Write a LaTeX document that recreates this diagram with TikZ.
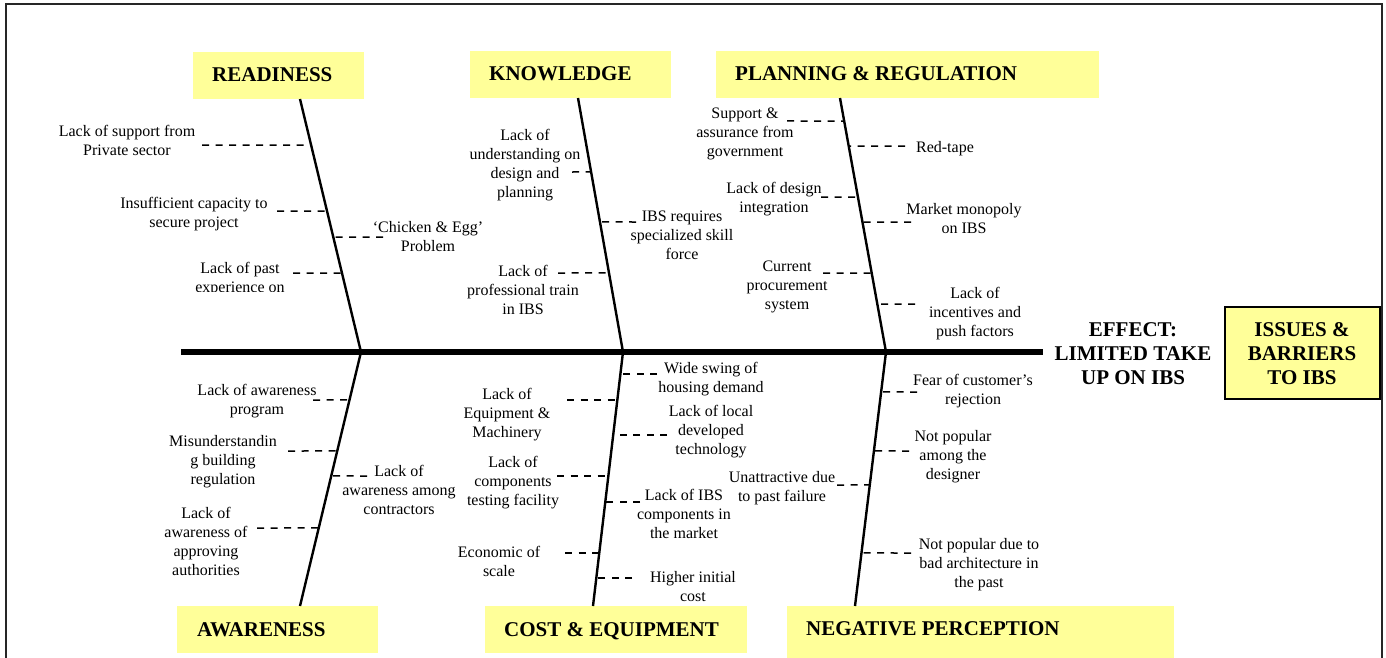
\documentclass[tikz,border=0pt]{standalone}
\usepackage{fontspec}
\setmainfont{Liberation Serif}
\usetikzlibrary{calc}
\definecolor{hy}{RGB}{255,255,153}
\newcommand\mkdash[5]{%
  \coordinate (#1b) at (intersection of #2--#3 and 0,#4--10,#4);
  \coordinate (#1e) at (#5,#4);
  \draw[dashln] (#1e) -- (#1b);}
\begin{document}
\begin{tikzpicture}[x=1pt,y=-1pt,
  lbl/.style={font=\fontsize{16}{19}\selectfont, align=center, inner sep=0pt, anchor=base},
  hdr/.style={font=\fontsize{21}{24}\selectfont\bfseries, inner sep=0pt, anchor=base west},
  hbox/.style={fill=hy, draw=none, inner sep=0pt, anchor=north west},
  bone/.style={line width=2.4pt},
  spine/.style={line width=6pt},
  dashln/.style={line width=1.5pt, dash pattern=on 7pt off 6.5pt},
  frame/.style={line width=2pt, draw=black!85}]
\useasboundingbox (0,0) rectangle (1386,658);
% frame
\draw[frame] (6,658) -- (6,4) -- (1382,4) -- (1382,658);
% header boxes
\node[hbox, minimum width=171pt, minimum height=47pt] (rbox) at (193,52) {};
\node[hbox, minimum width=201pt, minimum height=47pt] (kbox) at (470,51) {};
\node[hbox, minimum width=383pt, minimum height=47pt] (pbox) at (716,51) {};
\node[hbox, minimum width=201pt, minimum height=47pt] (abox) at (177,606) {};
\node[hbox, minimum width=262pt, minimum height=47pt] (cbox) at (485,606) {};
\node[hbox, minimum width=387pt, minimum height=53pt] (nbox) at (787,606) {};
\node[hdr] (rtxt) at ($(rbox.north west)+(19,30)$) {READINESS};
\node[hdr] (ktxt) at ($(kbox.north west)+(19,30)$) {KNOWLEDGE};
\node[hdr] (ptxt) at ($(pbox.north west)+(19,30)$) {PLANNING \& REGULATION};
\node[hdr] (atxt) at ($(abox.north west)+(20,30)$) {AWARENESS};
\node[hdr] (ctxt) at ($(cbox.north west)+(19,30)$) {COST \& EQUIPMENT};
\node[hdr] (ntxt) at ($(nbox.north west)+(19,29)$) {NEGATIVE PERCEPTION};
% spine
\coordinate (spL) at (181,352);
\coordinate (spR) at (1043,352);
\draw[spine] (spL) -- (spR);
% bones
\coordinate (rT) at (300,99);  \coordinate (rJ) at (361,352);
\coordinate (kT) at (578,98);  \coordinate (kJ) at (623,352);
\coordinate (pT) at (840,98);  \coordinate (pJ) at (886,352);
\coordinate (aB) at (300,606); \coordinate (cB) at (593,606); \coordinate (nB) at (855,606);
\draw[bone] (rT) -- (rJ) -- (aB);
\draw[bone] (kT) -- (kJ) -- (cB);
\draw[bone] (pT) -- (pJ) -- (nB);
% effect
\node[font=\fontsize{21}{24}\selectfont\bfseries, align=center, inner sep=0pt, anchor=base] (eff) at (1133,384) {EFFECT:\\LIMITED TAKE\\UP ON IBS};
\node[fill=hy, draw=black, line width=1.8pt, minimum width=155pt, minimum height=92pt, inner sep=0pt, anchor=north west] (ibox) at (1224,306) {};
\node[font=\fontsize{21}{24}\selectfont\bfseries, align=center, inner sep=0pt, anchor=base] (itxt) at (1302,384) {ISSUES \&\\BARRIERS\\TO IBS};
% dashes
\mkdash{d1}{rT}{rJ}{145}{202}
\mkdash{d2}{rT}{rJ}{211}{277}
\mkdash{d3}{rT}{rJ}{273}{293}
\mkdash{d4}{rT}{rJ}{237}{383}
\mkdash{d5}{kT}{kJ}{172}{572}
\mkdash{d6}{kT}{kJ}{222}{636}
\mkdash{d7}{kT}{kJ}{273}{558}
\mkdash{d8}{pT}{pJ}{121}{787}
\mkdash{d9}{pT}{pJ}{146}{905}
\mkdash{d10}{pT}{pJ}{197}{821}
\mkdash{d11}{pT}{pJ}{222}{911}
\mkdash{d12}{pT}{pJ}{273}{823}
\mkdash{d13}{pT}{pJ}{304}{915}
\mkdash{d14}{rJ}{aB}{400}{313}
\mkdash{d15}{rJ}{aB}{451}{288}
\mkdash{d16}{rJ}{aB}{476}{367}
\mkdash{d17}{rJ}{aB}{528}{257}
\mkdash{d18}{kJ}{cB}{374}{657}
\mkdash{d19}{kJ}{cB}{400}{567}
\mkdash{d20}{kJ}{cB}{435}{667}
\mkdash{d21}{kJ}{cB}{476}{557}
\mkdash{d22}{kJ}{cB}{502}{640}
\mkdash{d23}{kJ}{cB}{553}{565}
\mkdash{d24}{kJ}{cB}{578}{632}
\mkdash{d25}{pJ}{nB}{392}{917}
\mkdash{d26}{pJ}{nB}{451}{909}
\mkdash{d27}{pJ}{nB}{485}{837}
\mkdash{d28}{pJ}{nB}{553}{911}
% labels (anchored at the baseline of their last line)
\node[lbl] (l1) at (127,155) {Lack of support from\\Private sector};
\node[lbl] (l2) at (194,227) {Insufficient capacity to\\secure project};
\begin{scope}
\clip (140,250) rectangle (345,291);
\node[lbl] (l3) at (240,292) {Lack of past\\experience on};
\end{scope}
\node[lbl] (l4) at (428,251) {‘Chicken \& Egg’\\Problem};
\node[lbl] (l5) at (525,197) {Lack of\\understanding on\\design and\\planning};
\node[lbl] (l6) at (682,259) {IBS requires\\specialized skill\\force};
\node[lbl] (l7) at (523,314) {Lack of\\professional train\\in IBS};
\node[lbl] (l8) at (745,157) {Support \&\\assurance from\\government};
\node[lbl] (l9) at (945,152) {Red-tape};
\node[lbl] (l10) at (774,212) {Lack of design\\integration};
\node[lbl] (l11) at (964,233) {Market monopoly\\on IBS};
\node[lbl] (l12) at (787,309) {Current\\procurement\\system};
\node[lbl] (l13) at (975,336) {Lack of\\incentives and\\push factors};
\node[lbl] (l14) at (257,414) {Lack of awareness\\program};
\node[lbl] (l15) at (223,484) {Misunderstandin\\g building\\regulation};
\node[lbl] (l16) at (399,514) {Lack of\\awareness among\\contractors};
\node[lbl] (l17) at (206,575) {Lack of\\awareness of\\approving\\authorities};
\node[lbl] (l18) at (711,392) {Wide swing of\\housing demand};
\node[lbl] (l19) at (507,437) {Lack of\\Equipment \&\\Machinery};
\node[lbl] (l20) at (711,454) {Lack of local\\developed\\technology};
\node[lbl] (l21) at (513,505) {Lack of\\components\\testing facility};
\node[lbl] (l22) at (684,538) {Lack of IBS\\components in\\the market};
\node[lbl] (l23) at (499,576) {Economic of\\scale};
\node[lbl] (l24) at (693,601) {Higher initial\\cost};
\node[lbl] (l25) at (973,404) {Fear of customer’s\\rejection};
\node[lbl] (l26) at (953,479) {Not popular\\among the\\designer};
\node[lbl] (l27) at (782,501) {Unattractive due\\to past failure};
\node[lbl] (l28) at (979,587) {Not popular due to\\bad architecture in\\the past};
\end{tikzpicture}
\end{document}
